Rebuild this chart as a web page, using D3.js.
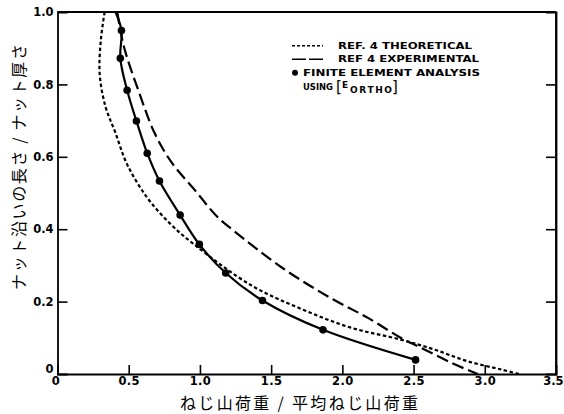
<!DOCTYPE html>
<html>
<head>
<meta charset="utf-8">
<script src="https://cdn.jsdelivr.net/npm/d3@7"></script>
<style>
  html, body { margin: 0; padding: 0; background: #fff; }
  svg { display: block; }
  .tick text { font-family: "DejaVu Sans", sans-serif; font-weight: bold; font-size: 11.5px; fill: #000; }
  .legend text { font-family: "DejaVu Sans", sans-serif; font-weight: bold; font-size: 9px; fill: #000; }
  .title { font-family: "Noto Sans CJK JP", sans-serif; font-size: 16px; fill: #000; }
</style>
</head>
<body>
<script>
// Thread load distribution along the nut
const xTicks = [0, 0.5, 1.0, 1.5, 2.0, 2.5, 3.0, 3.5];
const yTicks = [0, 0.2, 0.4, 0.6, 0.8, 1.0];

// Ref. 4 theoretical curve: [load ratio, position ratio]
const theoretical = [
  [0.331, 1.0], [0.305, 0.925], [0.296, 0.83], [0.336, 0.74], [0.406, 0.667],
  [0.489, 0.579], [0.63, 0.487], [0.794, 0.414], [0.959, 0.358], [1.36, 0.245],
  [1.71, 0.18], [2.06, 0.128], [2.41, 0.095], [2.65, 0.067], [2.88, 0.035],
  [3.12, 0.012], [3.24, 0.0]
];

// Ref. 4 experimental curve
const experimental = [
  [0.42, 1.0], [0.465, 0.906], [0.58, 0.77], [0.68, 0.667], [0.80, 0.585],
  [0.96, 0.51], [1.12, 0.435], [1.24, 0.395], [1.59, 0.29], [1.94, 0.205],
  [2.18, 0.155], [2.41, 0.10], [2.58, 0.067], [2.77, 0.03], [2.95, 0.0]
];

// Finite element results (E ortho)
const feaPoints = [
  [0.449, 0.949], [0.441, 0.872], [0.489, 0.784], [0.554, 0.699], [0.63, 0.61],
  [0.716, 0.533], [0.861, 0.439], [0.996, 0.358], [1.181, 0.279], [1.439, 0.203],
  [1.864, 0.122], [2.514, 0.039]
];
// the fitted line through the FEA points runs up to the top of the nut
const feaLineTop = [[0.407, 1.0]];

const legendLabels = ["REF. 4 THEORETICAL", "REF 4 EXPERIMENTAL", "FINITE ELEMENT ANALYSIS", "USING"];
const xTitle = "ねじ山荷重 / 平均ねじ山荷重";
const yTitle = "ナット沿いの長さ / ナット厚さ";

const W = 564, H = 414;
const svg = d3.select("body").append("svg").attr("width", W).attr("height", H);

const x = d3.scaleLinear().domain([0, 3.5]).range([57.5, 556]);
const y = d3.scaleLinear().domain([0, 1]).range([374, 12]);

const ink = "#000";

// frame
const frame = svg.append("g").attr("stroke", ink).attr("stroke-width", 1.8).attr("fill", "none");
frame.append("line").attr("x1", x(0)).attr("x2", x(3.5)).attr("y1", y(1)).attr("y2", y(1));
frame.append("line").attr("x1", x(3.5)).attr("x2", x(3.5)).attr("y1", y(1)).attr("y2", y(0));

// axes with inward ticks
const fmt = d => d === 0 ? "0" : d3.format(".1f")(d);
const gx = svg.append("g").attr("transform", `translate(0,${y(0)})`)
  .call(d3.axisBottom(x).tickValues(xTicks).tickFormat(fmt).tickSize(-9).tickPadding(3));
const gy = svg.append("g").attr("transform", `translate(${x(0)},0)`)
  .call(d3.axisLeft(y).tickValues(yTicks).tickFormat(fmt).tickSize(-10).tickPadding(5));
const gr = svg.append("g").attr("transform", `translate(${x(3.5)},0)`)
  .call(d3.axisRight(y).tickValues(yTicks.filter(d => d > 0 && d < 1)).tickFormat("").tickSize(-10));

[gx, gy, gr].forEach(g => {
  g.select(".domain").attr("stroke", ink).attr("stroke-width", 1.8);
  g.selectAll(".tick line").attr("stroke", ink).attr("stroke-width", 1.6);
  g.selectAll(".tick text").attr("fill", ink);
});
gx.selectAll(".tick").filter(d => d === 0 || d === 3.5).select("line").remove();
gy.selectAll(".tick").filter(d => d === 0 || d === 1).select("line").remove();
gx.selectAll(".tick text").attr("letter-spacing", 0.4);
gx.selectAll(".tick").filter(d => d === 0).select("text").attr("dx", -2);
gx.selectAll(".tick").filter(d => d === 3.5).select("text").attr("text-anchor", "end").attr("x", 7).attr("letter-spacing", 0);
gy.selectAll(".tick").filter(d => d === 0).select("text").attr("dy", "-0.1em");
gy.selectAll(".tick text").attr("x", -4);

// curves
const line = d3.line().x(d => x(d[0])).y(d => y(d[1])).curve(d3.curveCatmullRom.alpha(0.5));

svg.append("path").datum(theoretical).attr("d", line)
  .attr("fill", "none").attr("stroke", ink).attr("stroke-width", 2.2).attr("stroke-dasharray", "3.5,2.5");
svg.append("path").datum(experimental).attr("d", line)
  .attr("fill", "none").attr("stroke", ink).attr("stroke-width", 2.2).attr("stroke-dasharray", "12,5");
svg.append("path").datum(feaLineTop.concat(feaPoints)).attr("d", line)
  .attr("fill", "none").attr("stroke", ink).attr("stroke-width", 2.2);
svg.append("g").selectAll("circle").data(feaPoints).join("circle")
  .attr("cx", d => x(d[0])).attr("cy", d => y(d[1])).attr("r", 3.8).attr("fill", ink);

// legend
const lg = svg.append("g").attr("class", "legend");
const rows = [45.7, 59.3, 72.7, 86.7];
lg.append("line").attr("x1", 292).attr("x2", 323).attr("y1", rows[0]).attr("y2", rows[0])
  .attr("stroke", ink).attr("stroke-width", 1.6).attr("stroke-dasharray", "3,2");
lg.append("line").attr("x1", 292).attr("x2", 323).attr("y1", rows[1]).attr("y2", rows[1])
  .attr("stroke", ink).attr("stroke-width", 1.6).attr("stroke-dasharray", "14,3");
lg.append("circle").attr("cx", 295).attr("cy", rows[2]).attr("r", 3).attr("fill", ink);

const lx = [338, 338, 303, 303];
const lw = [134, 141, 177, 30];
legendLabels.forEach((t, i) => {
  lg.append("text").attr("x", lx[i]).attr("y", rows[i]).attr("dy", "0.35em")
    .attr("textLength", lw[i]).attr("lengthAdjust", "spacingAndGlyphs").text(t);
});
// [E ORTHO] bracket notation
lg.append("text").attr("x", 336).attr("y", rows[3] + 5).style("font-size", "15px").style("font-weight", "normal").text("[");
lg.append("text").attr("x", 342).attr("y", rows[3] + 1).text("E");
lg.append("text").attr("x", 350).attr("y", rows[3] + 6).attr("textLength", 42).attr("lengthAdjust", "spacing").text("ORTHO");
lg.append("text").attr("x", 392).attr("y", rows[3] + 5).style("font-size", "15px").style("font-weight", "normal").text("]");

// axis titles
svg.append("text").attr("class", "title")
  .attr("x", 299).attr("y", 403).attr("dy", "0.35em").attr("text-anchor", "middle")
  .attr("textLength", 238).attr("lengthAdjust", "spacing")
  .text(xTitle);
svg.append("text").attr("class", "title")
  .attr("transform", `translate(19,167) rotate(-90)`)
  .attr("dy", "0.35em").attr("text-anchor", "middle")
  .attr("textLength", 246).attr("lengthAdjust", "spacing")
  .text(yTitle);
</script>
</body>
</html>
